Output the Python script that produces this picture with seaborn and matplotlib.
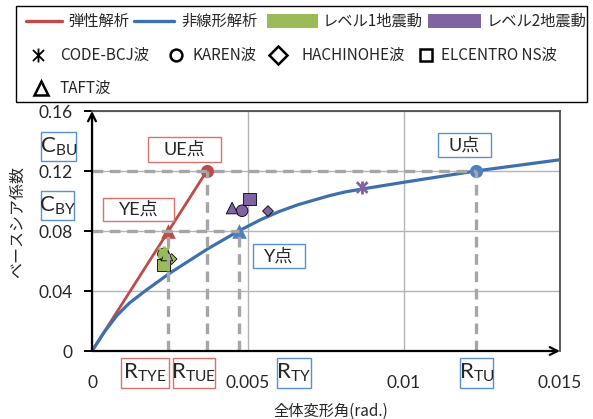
import numpy as np
import pandas as pd
import seaborn as sns
import matplotlib.pyplot as plt
from matplotlib.patches import Rectangle
from matplotlib.lines import Line2D
from matplotlib.path import Path

# ---- data -------------------------------------------------------------
# elastic analysis: straight line from origin to the UE point
elastic_drift = [0.0, 0.00368]
elastic_shear = [0.0, 0.12]

# nonlinear (pushover) analysis curve
nonlinear_drift = [0.0, 0.0004, 0.0008, 0.0012, 0.0017, 0.0025, 0.0037,
                   0.0047, 0.0054, 0.0060, 0.0066, 0.0076, 0.0081,
                   0.00866, 0.0100, 0.0123, 0.0150]
nonlinear_shear = [0.0, 0.0128, 0.0237, 0.0320, 0.0400, 0.0520, 0.0680,
                   0.0800, 0.0875, 0.0930, 0.0975, 0.1035, 0.1060,
                   0.1080, 0.1125, 0.1200, 0.1275]

# characteristic points
R_TYE, R_TUE = 0.00245, 0.00368
R_TY, R_TU = 0.0047, 0.0123
C_BY, C_BU = 0.08, 0.12

# earthquake response results
waves = ["CODE-BCJ波", "KAREN波", "HACHINOHE波", "ELCENTRO NS波", "TAFT波"]
lvl1_drift = [0.00230, 0.00229, 0.00255, 0.00229, 0.00240]
lvl1_shear = [0.0655, 0.0647, 0.0613, 0.0573, 0.0640]
lvl2_drift = [0.00866, 0.00481, 0.00564, 0.00506, 0.00449]
lvl2_shear = [0.1090, 0.0935, 0.0933, 0.1013, 0.0953]

x_ticks = [0, 0.005, 0.01, 0.015]
x_ticklabels = ["0", "0.005", "0.01", "0.015"]
y_ticks = [0, 0.04, 0.08, 0.12, 0.16]
y_ticklabels = ["0", "0.04", "0.08", "0.12", "0.16"]

# ---- style ------------------------------------------------------------
W, H = 593, 419
sns.set_style("white")
plt.rcParams['font.family'] = ['Lato', 'Noto Sans CJK JP', 'DejaVu Sans']
plt.rcParams['mathtext.default'] = 'regular'
JP = ['Noto Sans CJK JP', 'DejaVu Sans']

RED = "#BE4B48"
BLUE = "#3F70AE"
GREEN = "#9BBB59"
PURPLE = "#8064A2"
GUIDE = "#A6A6A6"
BOX_RED = "#D9716F"
BOX_BLUE = "#5B8FD1"

# vertical bar crossed by an X
ASTER = Path([(0, -1), (0, 1), (-0.8, -0.8), (0.8, 0.8), (-0.8, 0.8), (0.8, -0.8)],
             [Path.MOVETO, Path.LINETO] * 3)


def fx(px):
    return px / W


def fy(py):
    return 1 - py / H


fig = plt.figure(figsize=(W / 100, H / 100), dpi=100)
ax = fig.add_axes([fx(92), fy(351), fx(560) - fx(92), fy(111) - fy(351)])

# ---- curves -----------------------------------------------------------
sns.lineplot(x=elastic_drift, y=elastic_shear, ax=ax, color=RED, lw=2.0,
             sort=False, estimator=None, zorder=3)
sns.lineplot(x=nonlinear_drift, y=nonlinear_shear, ax=ax, color=BLUE, lw=2.3,
             sort=False, estimator=None, zorder=3)

# ---- response markers -------------------------------------------------
rows = []
for lvl, dr, sh in (("レベル1地震動", lvl1_drift, lvl1_shear),
                    ("レベル2地震動", lvl2_drift, lvl2_shear)):
    for w, d, s in zip(waves, dr, sh):
        rows.append({"wave": w, "level": lvl, "drift": d, "shear": s})
resp = pd.DataFrame(rows)
palette = {"レベル1地震動": GREEN, "レベル2地震動": PURPLE}

filled = resp[resp.wave != "CODE-BCJ波"]
sns.scatterplot(data=filled, x="drift", y="shear", hue="level", style="wave",
                size="wave", ax=ax, palette=palette,
                markers={"KAREN波": "o", "HACHINOHE波": "D",
                         "ELCENTRO NS波": "s", "TAFT波": "^"},
                sizes={"KAREN波": 70, "HACHINOHE波": 30,
                       "ELCENTRO NS波": 85, "TAFT波": 70},
                edgecolor="black", linewidth=0.6, legend=False, zorder=4)
star = resp[resp.wave == "CODE-BCJ波"]
sns.scatterplot(data=star, x="drift", y="shear", hue="level", ax=ax,
                palette=palette, marker="x", s=60, linewidth=2.0,
                legend=False, zorder=4)
sns.scatterplot(data=star, x="drift", y="shear", hue="level", ax=ax,
                palette=palette, marker="|", s=90, linewidth=2.0,
                legend=False, zorder=4)

# ---- guide lines to the characteristic points -------------------------
guide = dict(color=GUIDE, lw=2.4, dashes=(3.2, 2.0), zorder=5,
             solid_capstyle="butt")
ax.plot([0, R_TU], [C_BU, C_BU], **guide)
ax.plot([0, R_TY], [C_BY, C_BY], **guide)
for rx, cy in ((R_TYE, C_BY), (R_TUE, C_BU), (R_TY, C_BY), (R_TU, C_BU)):
    ax.plot([rx, rx], [0, cy], **guide)

# characteristic point markers
sns.scatterplot(x=[R_TYE], y=[C_BY], ax=ax, marker="^", s=110, color=RED,
                linewidth=0, zorder=4)
sns.scatterplot(x=[R_TUE], y=[C_BU], ax=ax, marker="o", s=90, color=RED,
                linewidth=0, zorder=4)
sns.scatterplot(x=[R_TY], y=[C_BY], ax=ax, marker="^", s=110, color="#4F81BD",
                linewidth=0, zorder=4)
sns.scatterplot(x=[R_TU], y=[C_BU], ax=ax, marker="o", s=90, color="#4F81BD",
                linewidth=0, zorder=4)

# ---- axes -------------------------------------------------------------
ax.set_xlim(0, 0.015)
ax.set_ylim(0, 0.16)
ax.set_xticks(x_ticks)
ax.set_xticklabels(x_ticklabels)
ax.set_yticks(y_ticks)
ax.set_yticklabels(y_ticklabels)
ax.set_xlabel("")
ax.set_ylabel("")
ax.grid(True, color="#B4B4B4", lw=1.0)
ax.set_axisbelow(True)
for side in ("left", "bottom"):
    ax.spines[side].set_visible(False)
for side in ("top", "right"):
    ax.spines[side].set_color("#4D4D4D")
    ax.spines[side].set_linewidth(1.3)
ax.tick_params(axis="y", left=True, length=6, width=1.4, color="black",
               pad=8, labelsize=12.5)
ax.tick_params(axis="x", bottom=False, length=0, pad=17, labelsize=12.5)

arrow = dict(arrowstyle="->", lw=1.6, color="black", mutation_scale=14,
             shrinkA=0, shrinkB=0)
ax.annotate("", xy=(0, 1.0), xytext=(0, 0), xycoords="axes fraction",
            arrowprops=arrow, annotation_clip=False, zorder=6)
ax.annotate("", xy=(1.0, 0), xytext=(0, 0), xycoords="axes fraction",
            arrowprops=arrow, annotation_clip=False, zorder=6)

fig.text(fx(331), fy(411), "全体変形角(rad.)", ha="center", va="center",
         fontsize=11, family=JP)
fig.text(fx(17), fy(222), "ベースシア係数", ha="center", va="center",
         rotation=90, fontsize=11.5, family=JP)


# ---- labelled boxes ---------------------------------------------------
def box_label(x0, y0, x1, y1, text, edge, size):
    fig.add_artist(Rectangle((fx(x0), fy(y1)), fx(x1) - fx(x0),
                             fy(y0) - fy(y1), transform=fig.transFigure,
                             fill=False, ec=edge, lw=1.0))
    fig.text(fx((x0 + x1) / 2), fy((y0 + y1) / 2), text, ha="center",
             va="center", fontsize=size)


box_label(148, 137, 221, 162, "UE点", BOX_RED, 13)
box_label(103, 198, 174, 221, "YE点", BOX_RED, 13)
box_label(253, 244, 305, 268, "Y点", BOX_BLUE, 13)
box_label(438, 133, 491, 157, "U点", BOX_BLUE, 13)
box_label(41, 132, 76, 161, r"C$_{BU}$", BOX_BLUE, 16)
box_label(41, 191, 74, 220, r"C$_{BY}$", BOX_BLUE, 16)
box_label(121, 358, 169, 388, r"R$_{TYE}$", BOX_RED, 16)
box_label(173, 358, 215, 388, r"R$_{TUE}$", BOX_RED, 16)
box_label(277, 358, 311, 388, r"R$_{TY}$", BOX_BLUE, 16)
box_label(460, 358, 493, 388, r"R$_{TU}$", BOX_BLUE, 16)

# ---- legend -----------------------------------------------------------
fig.add_artist(Rectangle((fx(16), fy(102)), fx(587) - fx(16),
                         fy(6) - fy(102), transform=fig.transFigure,
                         fill=False, ec="black", lw=1.0))
LEG = 11


def leg_text(x, y, s):
    fig.text(fx(x), fy(y), s, ha="left", va="center", fontsize=LEG, family=JP)


def leg_line(x0, x1, y, color):
    fig.add_artist(Line2D([fx(x0), fx(x1)], [fy(y), fy(y)],
                          transform=fig.transFigure, color=color, lw=2.4))


def leg_patch(x0, x1, y, color):
    fig.add_artist(Rectangle((fx(x0), fy(y + 7)), fx(x1) - fx(x0),
                             fy(y - 7) - fy(y + 7), transform=fig.transFigure,
                             fc=color, ec="none"))


def leg_marker(x, y, marker, ms, mew=1.8):
    fig.add_artist(Line2D([fx(x)], [fy(y)], transform=fig.transFigure,
                          marker=marker, ms=ms, mfc="white", mec="black",
                          mew=mew, color="black", ls="none"))


r1, r2, r3 = 21, 55, 88
leg_line(26, 62, r1, RED)
leg_text(68, r1, "弾性解析")
leg_line(134, 174, r1, BLUE)
leg_text(181, r1, "非線形解析")
leg_patch(267, 318, r1, GREEN)
leg_text(323, r1, "レベル1地震動")
leg_patch(428, 481, r1, PURPLE)
leg_text(487, r1, "レベル2地震動")

leg_marker(38, r2, ASTER, 10, 1.3)
leg_text(60, r2, waves[0])
leg_marker(176, r2, "o", 8.5)
leg_text(193, r2, waves[1])
leg_marker(278, r2, "D", 9.5)
leg_text(302, r2, waves[2])
leg_marker(426, r2, "s", 9)
leg_text(441, r2, waves[3])
leg_marker(41, r3, "^", 10)
leg_text(60, r3, waves[4])

fig.savefig("out.png", dpi=100)
